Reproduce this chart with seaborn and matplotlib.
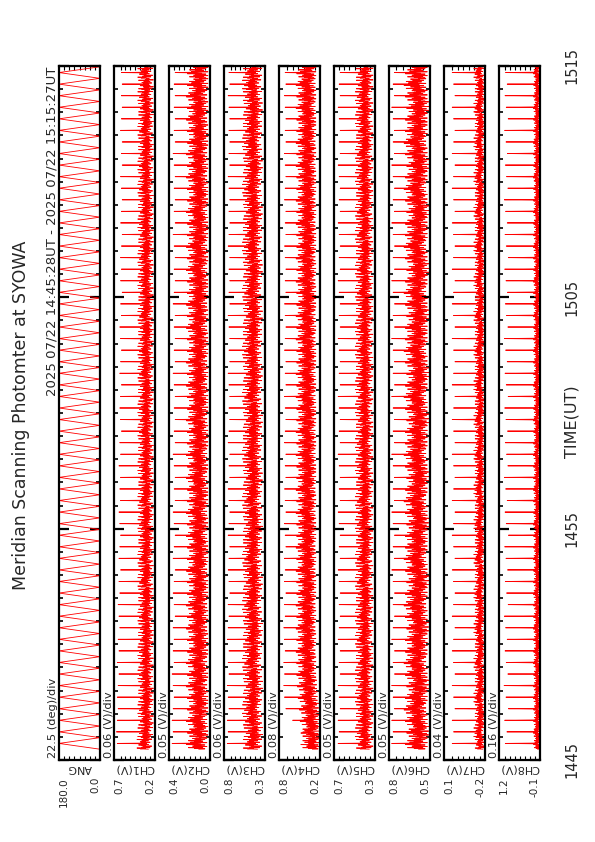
import numpy as np
import matplotlib
matplotlib.use("Agg")
import matplotlib.pyplot as plt
import seaborn as sns

sns.set_theme(style="white")
plt.rcParams['font.family'] = ['DejaVu Sans']

# --- panel texts and value ranges (high end is drawn on the left) ---
names = ["ANG", "CH1(V)", "CH2(V)", "CH3(V)", "CH4(V)", "CH5(V)", "CH6(V)", "CH7(V)", "CH8(V)"]
per_div = [22.5, 0.06, 0.05, 0.06, 0.08, 0.05, 0.05, 0.04, 0.16]
div_text = ["22.5 (deg)/div", "0.06 (V)/div", "0.05 (V)/div", "0.06 (V)/div", "0.08 (V)/div",
            "0.05 (V)/div", "0.05 (V)/div", "0.04 (V)/div", "0.16 (V)/div"]
v_hi = [180.0, 0.7, 0.4, 0.8, 0.8, 0.7, 0.8, 0.1, 1.2]
v_lo = [0.0, 0.2, 0.0, 0.3, 0.2, 0.3, 0.5, -0.2, -0.1]
hi_text = ["180.0", "0.7", "0.4", "0.8", "0.8", "0.7", "0.8", "0.1", "1.2"]
lo_text = ["0.0", "0.2", "0.0", "0.3", "0.2", "0.3", "0.5", "-0.2", "-0.1"]
time_ticks = [0, 10, 20, 30]
time_text = ["1445", "1455", "1505", "1515"]

# --- one 30 s meridian scan, 30 samples (north -> south -> north) ---
ang_scan = [0, 12, 24, 36, 48, 60, 72, 84, 96, 108, 120, 132, 144, 156, 168,
            180, 168, 156, 144, 132, 120, 108, 96, 84, 72, 60, 48, 36, 24, 12]
# shape of the signal inside the scan (fraction of the noisy band)
scan_a = [0.2, 0.7, 0.4, 0.9, 0.1, 0.6, 0.3, 0.5, 0.0, 0.6, 0.4, 0.8, 0.2, 0.5, 0.3,
          1.0, 0.3, 0.6, 0.1, 0.7, 0.4, 0.5, 0.2, 0.6, 0.3, 0.9, 0.0, 0.5, 0.3, 0.4]
scan_b = [0.4, 0.1, 0.6, 0.3, 0.9, 0.2, 0.5, 0.0, 0.7, 0.3, 0.6, 0.1, 1.0, 0.3, 0.6,
          0.2, 0.5, 0.0, 0.8, 0.4, 0.6, 0.2, 0.9, 0.3, 0.6, 0.1, 0.5, 0.3, 0.7, 0.0]
spike_at = 15

# --- per-scan levels (60 scans, 14:45:28 - 15:15:27) ---
ch1_base = [0.24, 0.23, 0.22, 0.23, 0.22, 0.22, 0.23, 0.22, 0.23, 0.22, 0.22, 0.23, 0.22, 0.22, 0.23,
            0.22, 0.23, 0.22, 0.22, 0.23, 0.22, 0.23, 0.22, 0.22, 0.23, 0.22, 0.22, 0.23, 0.22, 0.23,
            0.22, 0.22, 0.23, 0.22, 0.23, 0.22, 0.22, 0.23, 0.22, 0.22, 0.23, 0.22, 0.23, 0.22, 0.22,
            0.23, 0.22, 0.22, 0.23, 0.22, 0.23, 0.22, 0.22, 0.23, 0.22, 0.22, 0.23, 0.22, 0.23, 0.22]
ch1_peak = [0.66, 0.67, 0.66, 0.65, 0.66, 0.65, 0.64, 0.66, 0.64, 0.65, 0.63, 0.64, 0.65, 0.63, 0.64,
            0.62, 0.64, 0.63, 0.62, 0.63, 0.64, 0.62, 0.63, 0.62, 0.64, 0.62, 0.63, 0.61, 0.62, 0.63,
            0.62, 0.61, 0.63, 0.62, 0.61, 0.62, 0.63, 0.61, 0.62, 0.60, 0.62, 0.61, 0.62, 0.61, 0.60,
            0.62, 0.61, 0.60, 0.61, 0.62, 0.60, 0.61, 0.60, 0.62, 0.61, 0.60, 0.61, 0.60, 0.61, 0.60]
ch1_band = 0.2

ch2_base = [0.03, 0.02, 0.03, 0.02, 0.02, 0.03, 0.02, 0.03, 0.02, 0.02, 0.03, 0.02, 0.03, 0.02, 0.02,
            0.03, 0.02, 0.02, 0.03, 0.02, 0.03, 0.02, 0.02, 0.03, 0.02, 0.03, 0.02, 0.02, 0.03, 0.02,
            0.02, 0.03, 0.02, 0.03, 0.02, 0.02, 0.03, 0.02, 0.03, 0.02, 0.02, 0.03, 0.02, 0.03, 0.02,
            0.02, 0.03, 0.02, 0.02, 0.03, 0.02, 0.03, 0.02, 0.02, 0.03, 0.02, 0.03, 0.02, 0.02, 0.03]
ch2_peak = [0.37, 0.36, 0.37, 0.36, 0.35, 0.36, 0.37, 0.35, 0.36, 0.35, 0.36, 0.34, 0.35, 0.36, 0.35,
            0.34, 0.36, 0.35, 0.34, 0.35, 0.36, 0.34, 0.35, 0.34, 0.35, 0.36, 0.34, 0.35, 0.34, 0.35,
            0.34, 0.35, 0.36, 0.34, 0.35, 0.34, 0.35, 0.34, 0.36, 0.35, 0.34, 0.35, 0.34, 0.35, 0.36,
            0.34, 0.35, 0.34, 0.35, 0.34, 0.35, 0.36, 0.34, 0.35, 0.34, 0.35, 0.34, 0.35, 0.34, 0.35]
ch2_band = 0.2

ch3_base = [0.34, 0.33, 0.34, 0.35, 0.34, 0.33, 0.34, 0.35, 0.34, 0.34, 0.33, 0.34, 0.35, 0.34, 0.33,
            0.34, 0.35, 0.34, 0.34, 0.33, 0.34, 0.35, 0.34, 0.33, 0.34, 0.35, 0.34, 0.34, 0.33, 0.34,
            0.35, 0.34, 0.33, 0.34, 0.35, 0.34, 0.34, 0.33, 0.34, 0.35, 0.34, 0.33, 0.34, 0.35, 0.34,
            0.34, 0.33, 0.34, 0.35, 0.34, 0.33, 0.34, 0.35, 0.34, 0.34, 0.33, 0.34, 0.35, 0.34, 0.33]
ch3_peak = [0.76, 0.75, 0.76, 0.74, 0.75, 0.76, 0.74, 0.75, 0.74, 0.76, 0.75, 0.74, 0.75, 0.73, 0.74,
            0.75, 0.74, 0.73, 0.75, 0.74, 0.73, 0.74, 0.75, 0.73, 0.74, 0.73, 0.75, 0.74, 0.73, 0.74,
            0.73, 0.74, 0.75, 0.73, 0.74, 0.73, 0.74, 0.75, 0.73, 0.74, 0.73, 0.74, 0.73, 0.75, 0.74,
            0.73, 0.74, 0.73, 0.74, 0.75, 0.73, 0.74, 0.73, 0.74, 0.73, 0.74, 0.75, 0.73, 0.74, 0.73]
ch3_band = 0.25

ch4_base = [0.20, 0.20, 0.21, 0.22, 0.24, 0.25, 0.26, 0.26, 0.27, 0.26, 0.27, 0.26, 0.27, 0.26, 0.26,
            0.27, 0.26, 0.27, 0.26, 0.26, 0.27, 0.26, 0.27, 0.26, 0.26, 0.27, 0.26, 0.27, 0.26, 0.26,
            0.27, 0.26, 0.27, 0.26, 0.26, 0.27, 0.26, 0.27, 0.26, 0.26, 0.27, 0.26, 0.27, 0.26, 0.26,
            0.27, 0.26, 0.27, 0.26, 0.26, 0.27, 0.26, 0.27, 0.26, 0.26, 0.27, 0.26, 0.27, 0.26, 0.26]
ch4_peak = [0.30, 0.45, 0.60, 0.70, 0.72, 0.73, 0.72, 0.73, 0.71, 0.72, 0.73, 0.71, 0.72, 0.70, 0.72,
            0.71, 0.72, 0.70, 0.71, 0.72, 0.70, 0.71, 0.72, 0.70, 0.71, 0.70, 0.72, 0.71, 0.70, 0.71,
            0.72, 0.70, 0.71, 0.70, 0.72, 0.71, 0.70, 0.71, 0.72, 0.70, 0.71, 0.70, 0.71, 0.72, 0.70,
            0.71, 0.70, 0.72, 0.71, 0.70, 0.71, 0.72, 0.70, 0.71, 0.70, 0.71, 0.72, 0.70, 0.71, 0.70]
ch4_band = 0.28

ch5_base = [0.32, 0.33, 0.32, 0.32, 0.33, 0.32, 0.33, 0.32, 0.32, 0.33, 0.32, 0.33, 0.32, 0.32, 0.33,
            0.32, 0.33, 0.32, 0.32, 0.33, 0.32, 0.33, 0.32, 0.32, 0.33, 0.32, 0.33, 0.32, 0.32, 0.33,
            0.32, 0.33, 0.32, 0.32, 0.33, 0.32, 0.33, 0.32, 0.32, 0.33, 0.32, 0.33, 0.32, 0.32, 0.33,
            0.32, 0.33, 0.32, 0.32, 0.33, 0.32, 0.33, 0.32, 0.32, 0.33, 0.32, 0.33, 0.32, 0.32, 0.33]
ch5_peak = [0.66, 0.65, 0.66, 0.64, 0.65, 0.66, 0.64, 0.65, 0.64, 0.66, 0.65, 0.64, 0.65, 0.64, 0.65,
            0.66, 0.64, 0.65, 0.64, 0.65, 0.66, 0.64, 0.65, 0.64, 0.65, 0.66, 0.64, 0.65, 0.64, 0.65,
            0.66, 0.64, 0.65, 0.64, 0.65, 0.66, 0.64, 0.65, 0.64, 0.65, 0.66, 0.64, 0.65, 0.64, 0.65,
            0.66, 0.64, 0.65, 0.64, 0.65, 0.66, 0.64, 0.65, 0.64, 0.65, 0.66, 0.64, 0.65, 0.64, 0.65]
ch5_band = 0.18

ch6_base = [0.52, 0.51, 0.52, 0.53, 0.52, 0.51, 0.52, 0.53, 0.52, 0.52, 0.51, 0.52, 0.53, 0.52, 0.51,
            0.52, 0.53, 0.52, 0.52, 0.51, 0.52, 0.53, 0.52, 0.51, 0.52, 0.53, 0.52, 0.52, 0.51, 0.52,
            0.53, 0.52, 0.51, 0.52, 0.53, 0.52, 0.52, 0.51, 0.52, 0.53, 0.52, 0.51, 0.52, 0.53, 0.52,
            0.52, 0.51, 0.52, 0.53, 0.52, 0.51, 0.52, 0.53, 0.52, 0.52, 0.51, 0.52, 0.53, 0.52, 0.51]
ch6_peak = [0.78, 0.77, 0.78, 0.76, 0.77, 0.78, 0.76, 0.77, 0.76, 0.78, 0.77, 0.76, 0.77, 0.76, 0.77,
            0.78, 0.76, 0.77, 0.76, 0.77, 0.78, 0.76, 0.77, 0.76, 0.77, 0.78, 0.76, 0.77, 0.76, 0.77,
            0.78, 0.76, 0.77, 0.76, 0.77, 0.78, 0.76, 0.77, 0.76, 0.77, 0.78, 0.76, 0.77, 0.76, 0.77,
            0.78, 0.76, 0.77, 0.76, 0.77, 0.78, 0.76, 0.77, 0.76, 0.77, 0.78, 0.76, 0.77, 0.76, 0.77]
ch6_band = 0.16

ch7_base = [-0.20, -0.19, -0.20, -0.20, -0.19, -0.20, -0.20, -0.19, -0.20, -0.20, -0.19, -0.20,
            -0.20, -0.19, -0.20, -0.20, -0.19, -0.20, -0.20, -0.19, -0.20, -0.20, -0.19, -0.20,
            -0.20, -0.19, -0.20, -0.20, -0.19, -0.20, -0.20, -0.19, -0.20, -0.20, -0.19, -0.20,
            -0.20, -0.19, -0.20, -0.20, -0.19, -0.20, -0.20, -0.19, -0.20, -0.20, -0.19, -0.20,
            -0.20, -0.19, -0.20, -0.20, -0.19, -0.20, -0.20, -0.19, -0.20, -0.20, -0.19, -0.20]
ch7_peak = [0.04, 0.03, 0.04, 0.02, 0.03, 0.04, 0.02, 0.03, 0.04, 0.03, 0.02, 0.04, 0.03, 0.02, 0.03,
            0.04, 0.02, 0.03, 0.04, 0.03, 0.02, 0.04, 0.03, 0.02, 0.03, 0.04, 0.02, 0.03, 0.04, 0.03,
            0.02, 0.04, 0.03, 0.02, 0.03, 0.04, 0.02, 0.03, 0.04, 0.03, 0.02, 0.04, 0.03, 0.02, 0.03,
            0.04, 0.02, 0.03, 0.04, 0.03, 0.02, 0.04, 0.03, 0.02, 0.03, 0.04, 0.02, 0.03, 0.04, 0.03]
ch7_band = 0.08

ch8_base = [-0.10, -0.09, -0.10, -0.10, -0.09, -0.10, -0.10, -0.09, -0.10, -0.10, -0.09, -0.10,
            -0.10, -0.09, -0.10, -0.10, -0.09, -0.10, -0.10, -0.09, -0.10, -0.10, -0.09, -0.10,
            -0.10, -0.09, -0.10, -0.10, -0.09, -0.10, -0.10, -0.09, -0.10, -0.10, -0.09, -0.10,
            -0.10, -0.09, -0.10, -0.10, -0.09, -0.10, -0.10, -0.09, -0.10, -0.10, -0.09, -0.10,
            -0.10, -0.09, -0.10, -0.10, -0.09, -0.10, -0.10, -0.09, -0.10, -0.10, -0.09, -0.10]
ch8_peak = [1.00, 0.95, 1.02, 0.90, 0.98, 1.04, 0.92, 0.97, 1.01, 0.94, 0.99, 1.03, 0.91, 0.96, 1.00,
            0.93, 0.98, 1.02, 0.90, 0.97, 1.01, 0.94, 0.99, 1.03, 0.92, 0.96, 1.00, 0.93, 0.98, 1.02,
            0.91, 0.97, 1.01, 0.94, 0.99, 1.03, 0.92, 0.96, 1.00, 0.93, 0.98, 1.02, 0.90, 0.97, 1.01,
            0.94, 0.99, 1.03, 0.92, 0.96, 1.00, 0.93, 0.98, 1.02, 0.91, 0.97, 1.01, 0.94, 0.99, 1.03]
ch8_band = 0.2

# scan start times in minutes after 14:45, 1 s samples
scan_start = 28.0 / 60.0
n_scan = 60
t = scan_start + np.arange(n_scan * 30) / 60.0


def build(base, peak, band, shape):
    out = []
    for c in range(n_scan):
        for k in range(30):
            if k == spike_at:
                out.append(peak[c])
            else:
                out.append(base[c] + band * shape[k])
    return np.array(out)


series = [np.array(ang_scan * n_scan, dtype=float),
          build(ch1_base, ch1_peak, ch1_band, scan_a),
          build(ch2_base, ch2_peak, ch2_band, scan_b),
          build(ch3_base, ch3_peak, ch3_band, scan_a),
          build(ch4_base, ch4_peak, ch4_band, scan_b),
          build(ch5_base, ch5_peak, ch5_band, scan_a),
          build(ch6_base, ch6_peak, ch6_band, scan_b),
          build(ch7_base, ch7_peak, ch7_band, scan_a),
          build(ch8_base, ch8_peak, ch8_band, scan_b)]

# --- layout (pixels of the 595 x 842 page) ---
W_PX, H_PX = 595, 842
fig = plt.figure(figsize=(W_PX / 100, H_PX / 100), dpi=100)
lefts = [59, 114, 169, 224, 279, 334, 389, 444, 499]
pw = 41
top_px, bot_px = 66, 760
ph = bot_px - top_px

axes = []
for i in range(9):
    ax = fig.add_axes([lefts[i] / W_PX, 1 - bot_px / H_PX, pw / W_PX, ph / H_PX])
    sns.lineplot(x=series[i], y=t, sort=False, estimator=None, orient="y",
                 color="#ff0000", linewidth=0.6, ax=ax)
    ax.set_xlim(v_hi[i], v_lo[i])
    ax.set_ylim(0, 30)
    ax.set_xlabel("")
    ax.set_ylabel("")
    for s in ax.spines.values():
        s.set_color("black")
        s.set_linewidth(1.6)
    ax.set_yticks(time_ticks)
    ax.set_yticks(np.arange(0, 31, 1), minor=True)
    ax.tick_params(axis="y", which="major", direction="in", left=True, right=True,
                   length=7, width=1.6, color="black", labelleft=False)
    ax.tick_params(axis="y", which="minor", direction="in", left=True, right=True,
                   length=3, width=1.2, color="black")
    ax.set_xticks(np.arange(v_lo[i] + per_div[i], v_hi[i] - per_div[i] * 0.5, per_div[i]))
    ax.tick_params(axis="x", which="major", direction="in", bottom=True, top=True,
                   length=3, width=0.8, color="black", labelbottom=False)

    ax.text(-0.5 / pw, 2 / ph, div_text[i], transform=ax.transAxes, rotation=90,
            ha="right", va="bottom", fontsize=8.2)
    ax.text(0.5, -3 / ph, names[i], transform=ax.transAxes, rotation=180,
            ha="center", va="top", fontsize=8)
    ax.text(0.0, -17 / ph, hi_text[i], transform=ax.transAxes, rotation=90,
            ha="left", va="top", fontsize=7.5)
    ax.text(1.0, -17 / ph, lo_text[i], transform=ax.transAxes, rotation=90,
            ha="right", va="top", fontsize=7.5)
    axes.append(ax)

axes[0].text(-0.5 / pw, 1 - 1 / ph, "2025 07/22 14:45:28UT - 2025 07/22 15:15:27UT",
             transform=axes[0].transAxes, rotation=90, ha="right", va="top", fontsize=9.5)

last = axes[-1]
for tv, tl in zip(time_ticks, time_text):
    last.text(1 + 32 / pw, tv, tl, transform=last.get_yaxis_transform(), rotation=90,
              ha="center", va="center", fontsize=10.5)

fig.text(572 / W_PX, 1 - 422 / H_PX, "TIME(UT)", rotation=90, ha="center", va="center", fontsize=11.5)
fig.text(21 / W_PX, 1 - 415 / H_PX, "Meridian Scanning Photomter at SYOWA", rotation=90,
         ha="center", va="center", fontsize=12.5)

fig.savefig("out.png", dpi=100)
